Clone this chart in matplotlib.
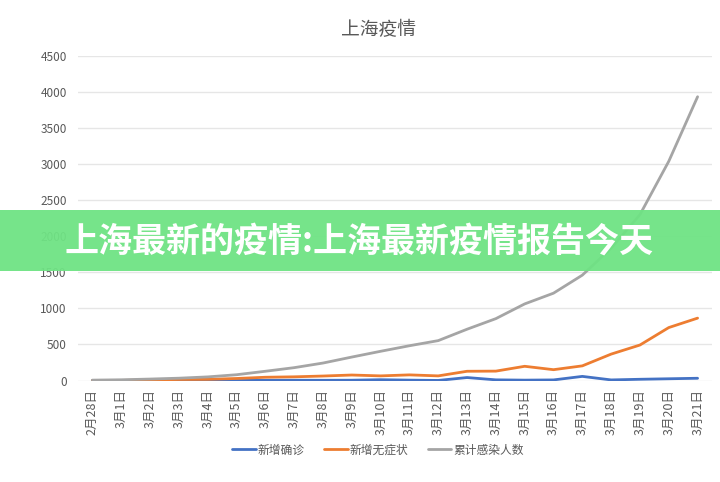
import matplotlib
matplotlib.use("Agg")
import matplotlib.pyplot as plt
from matplotlib.patches import Rectangle

plt.rcParams['font.family'] = ['Noto Sans CJK SC', 'DejaVu Sans']

dates = ["2月28日", "3月1日", "3月2日", "3月3日", "3月4日", "3月5日", "3月6日", "3月7日",
         "3月8日", "3月9日", "3月10日", "3月11日", "3月12日", "3月13日", "3月14日",
         "3月15日", "3月16日", "3月17日", "3月18日", "3月19日", "3月20日", "3月21日"]
new_confirmed = [0, 1, 0, 2, 3, 0, 3, 4, 3, 4, 11, 5, 1, 41, 9, 5, 8, 57, 8, 17, 24, 31]
new_asymptomatic = [1, 1, 8, 14, 16, 28, 45, 51, 62, 76, 64, 78, 64, 128, 130, 197, 150, 203, 366, 492, 734, 865]
cumulative = [5, 10, 20, 32, 50, 80, 128, 178, 242, 325, 405, 482, 553, 711, 858, 1062, 1211, 1461, 1835, 2300, 3040, 3935]
series_names = ["新增确诊", "新增无症状", "累计感染人数"]
yticks = [0, 500, 1000, 1500, 2000, 2500, 3000, 3500, 4000, 4500]

colors = ["#4472C4", "#ED7D31", "#A5A5A5"]
text_color = "#595959"

fig = plt.figure(figsize=(7.2, 4.82), dpi=100)
ax = fig.add_axes([78/720, 1-380.5/482, (712-78)/720, (380.5-56)/482])

x = list(range(len(dates)))
for vals, name, c in zip([new_confirmed, new_asymptomatic, cumulative], series_names, colors):
    ax.plot(x, vals, color=c, lw=2.0, label=name, solid_joinstyle='round', solid_capstyle='round')

ax.set_xlim(-0.5, len(dates) - 0.5)
ax.set_ylim(0, 4500)
ax.set_yticks(yticks)
ax.set_yticklabels([str(v) for v in yticks], fontsize=8.5, color=text_color)
ax.set_xticks(x)
ax.set_xticklabels(dates, rotation=90, fontsize=9, color=text_color)
ax.grid(axis='y', color="#E6E6E6", lw=1.0)
ax.set_axisbelow(True)
for s in ax.spines.values():
    s.set_visible(False)
ax.tick_params(axis='both', length=0, pad=8)
ax.tick_params(axis='x', pad=6)

fig.text(378/720, 1-30/482, "上海疫情", ha='center', va='center', fontsize=13.5, color=text_color)

leg = fig.legend(loc='center', bbox_to_anchor=(378/720, 1-450/482), ncol=3, frameon=False,
                 fontsize=8.5, handlelength=2.0, handletextpad=0.2, columnspacing=1.6)
for t in leg.get_texts():
    t.set_color(text_color)

# banner overlay
fig.patches.append(Rectangle((0, 1-271/482), 1, 61/482, transform=fig.transFigure,
                             facecolor="#6FE384", alpha=0.95, edgecolor='none', zorder=10))
fig.text(65/720, 1-241/482, "上海最新的疫情:上海最新疫情报告今天", ha='left', va='center',
         fontsize=24.5, fontweight='bold', color='white', zorder=11)

fig.savefig("out.png", dpi=100)
